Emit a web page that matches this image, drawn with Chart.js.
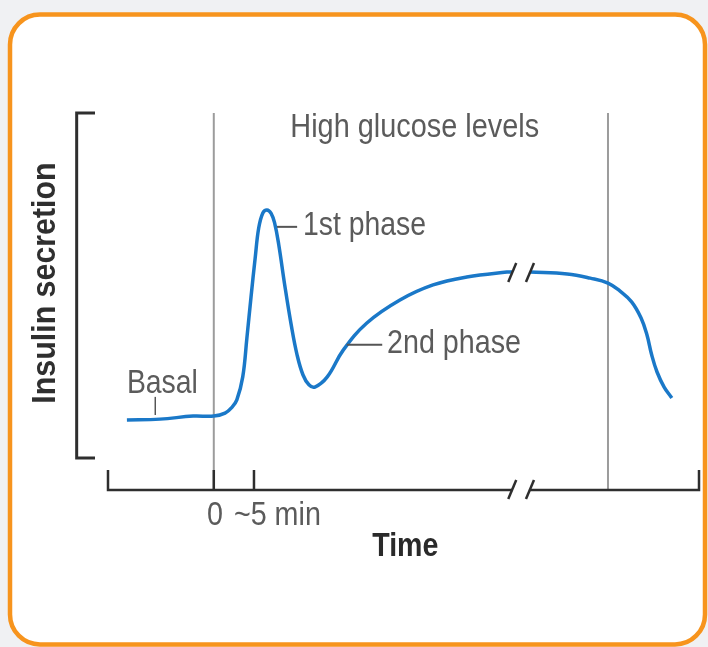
<!DOCTYPE html>
<html>
<head>
<meta charset="utf-8">
<script src="https://cdn.jsdelivr.net/npm/chart.js@4.4.1/dist/chart.umd.min.js"></script>
<style>
  html, body { margin: 0; padding: 0; background: #f0f1f3; }
  #wrap { width: 708px; height: 647px; }
</style>
</head>
<body>
<div id="wrap"><canvas id="c" width="708" height="647"></canvas></div>
<script>
// ---- data (arbitrary schematic units, 0..100 on both axes) ----
const timeX = [3.2, 8.8, 14.4, 17.9, 19.8, 21.0, 21.8, 22.8, 23.5, 24.2, 24.9, 25.5, 26.2, 26.9, 27.6, 28.2, 28.9, 29.9, 31.0, 32.0, 33.0, 34.0, 35.0, 37.1, 39.8, 43.8, 49.4, 55.0, 60.7, 67.5, 68.4, 70.0, 71.4, 77.7, 81.6, 84.6, 86.6, 88.6, 90.2, 91.2, 92.0, 92.9, 94.1, 95.4];
const insulin = [18.6, 18.8, 19.6, 19.6, 20.4, 22.0, 23.9, 30.0, 40.3, 51.2, 61.5, 69.5, 73.5, 74.3, 73.4, 70.8, 65.0, 54.4, 43.8, 35.8, 30.5, 27.9, 27.3, 30.0, 37.1, 44.3, 50.4, 54.4, 56.5, 57.8, 57.8, null, 57.8, 57.3, 56.2, 54.9, 52.8, 49.9, 45.6, 41.1, 35.8, 31.3, 27.3, 24.4];
const tickLabels = ['0', '~5 min'];
const tickValues = [17.9, 24.7];
const stimulusBounds = [17.9, 84.6];   // high glucose period start / end
const breakValues = [68.4, 71.4];      // axis break marks
const phaseLabels = ['Basal', '1st phase', '2nd phase'];
const periodLabel = 'High glucose levels';
const xTitle = 'Time';
const yTitle = 'Insulin secretion';

const points = timeX.map((x, i) => ({ x: x, y: insulin[i] }));

const TEXT = '#5b5b5b';
const DARK = '#2e2e2e';
const REG = '33px "Liberation Sans", Arial, sans-serif';
const BOLD = 'bold 34px "Liberation Sans", Arial, sans-serif';
const BOLDY = 'bold 33px "Liberation Sans", Arial, sans-serif';

function txt(ctx, s, x, y, align, font, sx, color) {
  ctx.save();
  ctx.font = font;
  ctx.fillStyle = color || TEXT;
  ctx.textBaseline = 'alphabetic';
  ctx.translate(x, y);
  ctx.scale(sx, 1);
  ctx.textAlign = align;
  ctx.fillText(s, 0, 0);
  ctx.restore();
}
function line(ctx, x1, y1, x2, y2, color, w) {
  ctx.save();
  ctx.strokeStyle = color; ctx.lineWidth = w; ctx.lineCap = 'butt';
  ctx.beginPath(); ctx.moveTo(x1, y1); ctx.lineTo(x2, y2); ctx.stroke();
  ctx.restore();
}

const schematic = {
  id: 'schematic',
  beforeDraw(chart) {
    const ctx = chart.ctx;
    ctx.save();
    ctx.fillStyle = '#f0f1f3';
    ctx.fillRect(0, 0, chart.width, chart.height);
    ctx.beginPath();
    ctx.roundRect(10, 14.5, 695, 630, 30);
    ctx.fillStyle = '#ffffff';
    ctx.fill();
    ctx.lineWidth = 4.5;
    ctx.strokeStyle = '#f7941d';
    ctx.stroke();
    ctx.restore();
  },
  beforeDatasetsDraw(chart) {
    const ctx = chart.ctx, xs = chart.scales.x, ys = chart.scales.y;
    const X = v => xs.getPixelForValue(v), Y = v => ys.getPixelForValue(v);
    stimulusBounds.forEach(v => line(ctx, X(v), Y(100), X(v), Y(0), '#9c9c9c', 2));
    ctx.save();
    ctx.strokeStyle = DARK; ctx.lineWidth = 3; ctx.lineJoin = 'miter';
    ctx.beginPath();
    ctx.moveTo(X(-2.2), Y(100)); ctx.lineTo(X(-5.3), Y(100));
    ctx.lineTo(X(-5.3), Y(8.5)); ctx.lineTo(X(-2.2), Y(8.5));
    ctx.stroke();
    ctx.lineWidth = 2.5;
    ctx.beginPath();
    ctx.moveTo(X(0), Y(5.3)); ctx.lineTo(X(0), Y(0)); ctx.lineTo(X(breakValues[0]), Y(0));
    ctx.moveTo(X(breakValues[1]), Y(0)); ctx.lineTo(X(100), Y(0)); ctx.lineTo(X(100), Y(5.3));
    ctx.stroke();
    ctx.restore();
    tickValues.forEach(v => line(ctx, X(v), Y(5.3), X(v), Y(0), DARK, 2.5));
  },
  afterDatasetsDraw(chart) {
    const ctx = chart.ctx, xs = chart.scales.x, ys = chart.scales.y;
    const X = v => xs.getPixelForValue(v), Y = v => ys.getPixelForValue(v);
    const curveLevel = 57.8;
    breakValues.forEach(v => {
      line(ctx, X(v) - 4, Y(0) + 9, X(v) + 4, Y(0) - 10, DARK, 2.5);
      line(ctx, X(v) - 4, Y(curveLevel) + 10, X(v) + 4, Y(curveLevel) - 9, DARK, 2.5);
    });
    line(ctx, X(8.0), Y(24.7), X(8.0), Y(19.9), '#555', 1.5);
    line(ctx, X(28.6), Y(69.8), X(32.0), Y(69.8), '#555', 2);
    line(ctx, X(40.4), Y(38.5), X(46.4), Y(38.5), '#555', 2);
    txt(ctx, periodLabel, X(51.9), Y(93.6), 'center', REG, 0.875);
    txt(ctx, phaseLabels[0], X(3.2), Y(25.7), 'left', REG, 0.86);
    txt(ctx, phaseLabels[1], X(33.0), Y(67.6), 'left', REG, 0.86);
    txt(ctx, phaseLabels[2], X(47.2), Y(36.3), 'left', REG, 0.87);
    txt(ctx, tickLabels[0], X(18.1), Y(-9.3), 'center', REG, 0.87);
    txt(ctx, tickLabels[1], X(21.3), Y(-9.3), 'left', REG, 0.87);
    txt(ctx, xTitle, X(50.3), Y(-17.5), 'center', BOLD, 0.84, '#2a2a2a');
    ctx.save();
    ctx.translate(X(-9.0), Y(54.9));
    ctx.rotate(-Math.PI / 2);
    ctx.scale(0.92, 1);
    ctx.font = BOLDY;
    ctx.fillStyle = '#2f2f2f';
    ctx.textAlign = 'center';
    ctx.textBaseline = 'alphabetic';
    ctx.fillText(yTitle, 0, 0);
    ctx.restore();
  }
};

new Chart(document.getElementById('c'), {
  type: 'line',
  data: {
    datasets: [{
      data: points,
      borderColor: '#1a78c8',
      borderWidth: 3.5,
      pointRadius: 0,
      fill: false,
      spanGaps: false,
      tension: 0.4
    }]
  },
  options: {
    responsive: false,
    animation: false,
    layout: { padding: { left: 108, right: 9, top: 113, bottom: 157 } },
    plugins: { legend: { display: false }, tooltip: { enabled: false } },
    scales: {
      x: { type: 'linear', min: 0, max: 100, display: false },
      y: { type: 'linear', min: 0, max: 100, display: false }
    }
  },
  plugins: [schematic]
});
</script>
</body>
</html>
